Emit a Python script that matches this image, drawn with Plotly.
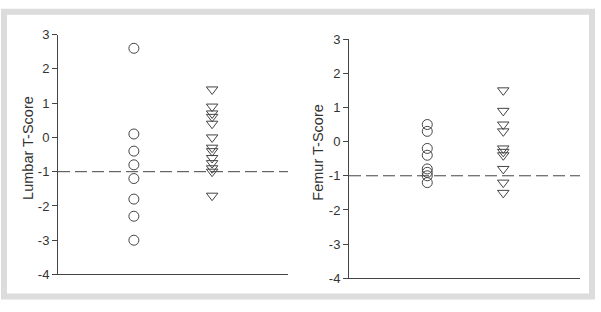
import plotly.graph_objects as go

# Data
lumbar_circles = [2.6, 0.1, -0.4, -0.8, -1.2, -1.8, -2.3, -3.0]
lumbar_triangles = [1.4, 0.9, 0.7, 0.6, 0.4, 0.0, -0.3, -0.4, -0.6, -0.75, -0.9, -1.0, -1.7]
femur_circles = [0.5, 0.3, -0.2, -0.4, -0.8, -0.9, -1.0, -1.2]
femur_triangles = [1.5, 0.9, 0.5, 0.3, -0.2, -0.3, -0.4, -0.8, -1.2, -1.5]
threshold = -1
y_ticks = [3, 2, 1, 0, -1, -2, -3, -4]
y_ticktext = ["3", "2", "1", "0", "-1", "-2", "-3", "-4"]
y_titles = ["Lumbar T-Score", "Femur T-Score"]

W, H = 601, 312
LC = "#444444"
TC = "#333333"
FONT = "Liberation Sans, Arial, sans-serif"

fig = go.Figure()

def add_pair(circles, triangles, xa, ya):
    fig.add_trace(go.Scatter(
        x=[1] * len(circles), y=circles, mode="markers", xaxis=xa, yaxis=ya,
        marker=dict(symbol="circle-open", size=10, color=LC, line=dict(width=1, color=LC)),
        showlegend=False, hoverinfo="y"))
    fig.add_trace(go.Scatter(
        x=[2] * len(triangles), y=triangles, mode="markers", xaxis=xa, yaxis=ya,
        marker=dict(symbol="triangle-down-open", size=10, color=LC, line=dict(width=1, color=LC)),
        showlegend=False, hoverinfo="y"))

add_pair(lumbar_circles, lumbar_triangles, "x", "y")
add_pair(femur_circles, femur_triangles, "x2", "y2")

def yaxis(domain, anchor):
    return dict(
        domain=domain, anchor=anchor, range=[-4, 3], tickvals=y_ticks, ticktext=y_ticktext,
        showline=True, linecolor=LC, linewidth=1, ticks="outside", ticklen=5, tickcolor=LC,
        showgrid=False, zeroline=False, tickfont=dict(size=13, color=TC, family=FONT),
    )

def xaxis(domain, anchor, rng):
    return dict(
        domain=domain, anchor=anchor, range=rng, showline=True, linecolor=LC, linewidth=1,
        showticklabels=False, ticks="", showgrid=False, zeroline=False,
    )

fig.update_layout(
    width=W, height=H,
    margin=dict(l=0, r=0, t=0, b=0),
    paper_bgcolor="white", plot_bgcolor="white",
    xaxis=xaxis([58 / W, 288 / W], "y", [0.03, 2.97]),
    yaxis=yaxis([(H - 281) / H, (H - 29) / H], "x"),
    xaxis2=xaxis([349 / W, 580 / W], "y2", [-0.03, 3.01]),
    yaxis2=yaxis([(H - 285) / H, (H - 33.7) / H], "x2"),
    shapes=[
        dict(type="line", xref="x domain", yref="y", x0=0, x1=1, y0=threshold, y1=threshold,
             line=dict(color=LC, width=1, dash="12px,5px")),
        dict(type="line", xref="x2 domain", yref="y2", x0=0, x1=1, y0=threshold, y1=threshold,
             line=dict(color=LC, width=1, dash="12px,5px")),
        dict(type="rect", xref="paper", yref="paper",
             x0=4 / W, x1=592 / W, y0=(H - 304) / H, y1=(H - 5) / H,
             line=dict(color="#dcdcdc", width=6), fillcolor="rgba(0,0,0,0)", layer="below"),
    ],
    annotations=[
        dict(text=y_titles[0], xref="paper", yref="paper", x=28 / W, y=(H - 148) / H,
             textangle=-90, showarrow=False, xanchor="center", yanchor="middle",
             font=dict(size=14.5, color=TC, family=FONT)),
        dict(text=y_titles[1], xref="paper", yref="paper", x=318 / W, y=(H - 153) / H,
             textangle=-90, showarrow=False, xanchor="center", yanchor="middle",
             font=dict(size=14.5, color=TC, family=FONT)),
    ],
)

fig.write_html("out.html", config={"displayModeBar": False},
               post_script="document.body.style.margin='0';document.body.style.overflow='hidden';")
